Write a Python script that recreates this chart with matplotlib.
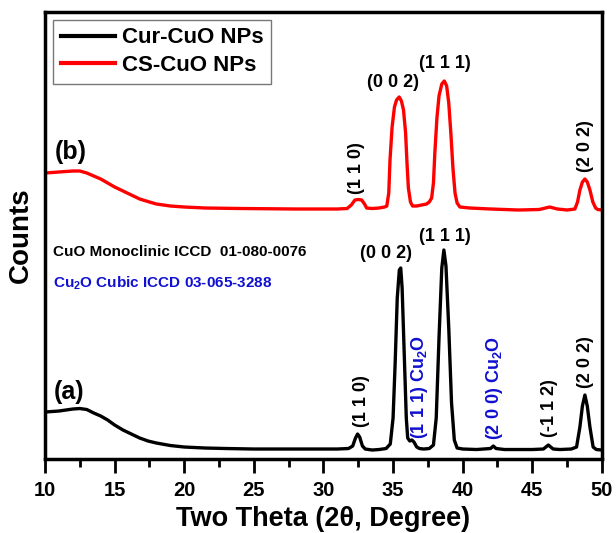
import matplotlib
matplotlib.use('Agg')
import matplotlib.pyplot as plt

plt.rcParams['font.family'] = ['Liberation Sans', 'DejaVu Sans']
plt.rcParams['font.weight'] = 'bold'
plt.rcParams['mathtext.fontset'] = 'custom'
plt.rcParams['mathtext.rm'] = 'Liberation Sans:bold'
plt.rcParams['mathtext.it'] = 'Liberation Sans:bold'
plt.rcParams['mathtext.bf'] = 'Liberation Sans:bold'
plt.rcParams['mathtext.default'] = 'rm'

# Cur-CuO NPs pattern (a)
theta_a = [10.0, 11.0, 12.0, 12.5, 13.0, 13.5, 14.0, 14.5, 15.0, 15.6, 16.2, 16.8, 17.4, 18.0,
           19.0, 20.0, 21.5, 23.0, 25.0, 28.0, 31.0, 31.8, 32.1, 32.3, 32.45, 32.6, 32.8, 33.0,
           33.5, 34.0, 34.5, 34.8, 35.0, 35.15, 35.3, 35.45, 35.55, 35.65, 35.8, 35.95, 36.05,
           36.2, 36.35, 36.5, 36.7, 36.9, 37.2, 37.6, 37.9, 38.1, 38.3, 38.5, 38.65, 38.8, 39.0,
           39.2, 39.4, 39.6, 40.0, 41.0, 42.0, 42.2, 42.4, 43.0, 44.0, 45.0, 45.8, 46.15, 46.5,
           47.0, 47.8, 48.18, 48.42, 48.6, 48.78, 48.95, 49.14, 49.37, 49.6, 50.0]
counts_a = [46, 47, 49, 49.5, 48.5, 45, 42, 38, 33, 28, 24, 20, 17, 15,
            12.5, 11, 10, 9.5, 9, 9, 9, 9.5, 12, 20, 24, 21, 12, 9,
            8, 8.5, 9.5, 14, 40, 95, 160, 188, 190, 170, 105, 40, 20,
            17, 18, 16, 11, 9.5, 9, 9.5, 13, 40, 120, 190, 208, 192, 130,
            55, 18, 10, 9, 8.5, 9.5, 12, 9.5, 8.5, 8.5, 8.5, 9, 13, 9,
            8.5, 9, 11, 31, 52, 63, 52, 31, 11, 8.5, 8]

# CS-CuO NPs pattern (b)
theta_b = [10.0, 11.0, 12.0, 12.5, 13.0, 13.5, 14.0, 14.5, 15.0, 15.6, 16.2, 16.8, 17.5, 18.0,
           19.0, 20.0, 21.5, 24.0, 28.0, 31.0, 31.7, 32.0, 32.26, 32.5, 32.74, 32.95, 33.1,
           33.5, 34.0, 34.4, 34.55, 34.69, 34.78, 34.93, 35.1, 35.25, 35.44, 35.6, 35.75, 35.9,
           36.0, 36.1, 36.25, 36.4, 36.7, 37.05, 37.4, 37.6, 37.77, 37.9, 38.0, 38.15, 38.3,
           38.5, 38.68, 38.85, 39.0, 39.15, 39.3, 39.45, 39.6, 39.8, 40.5, 42.0, 44.0, 45.5,
           46.25, 46.8, 47.5, 48.06, 48.25, 48.42, 48.6, 48.78, 48.95, 49.14, 49.35, 49.55,
           49.7, 50.0]
counts_b = [285, 286, 287, 287, 285, 282, 279, 275, 271, 267, 263, 259, 256, 254,
            252, 251, 250, 249.5, 249, 249, 249.5, 253, 258, 258.5, 258, 254, 250,
            249.5, 250, 251, 252, 265, 298, 331, 351, 358, 361, 357, 348, 325,
            295, 270, 256, 252, 252, 253, 254, 256, 260, 275, 305, 340, 362,
            374, 377, 372, 355, 325, 290, 265, 255, 251, 250, 249, 248, 248.5,
            251, 249, 248, 249, 256, 268, 276, 279, 276, 268, 256, 250,
            248.5, 248]

xticks = [10, 15, 20, 25, 30, 35, 40, 45, 50]

fig = plt.figure(figsize=(6.16, 5.33), dpi=100)
ax = fig.add_axes([0.0731, 0.1388, 0.904, 0.8387])

ax.plot(theta_a, counts_a, color='black', lw=2.4, label='Cur-CuO NPs')
ax.plot(theta_b, counts_b, color='#ff0000', lw=2.4, label='CS-CuO NPs')

ax.set_xlim(10, 50)
ax.set_ylim(-1, 446)
ax.set_xticks(xticks)
ax.set_xticklabels([str(t) for t in xticks], fontweight='bold')
ax.set_xticks([12.5, 17.5, 22.5, 27.5, 32.5, 37.5, 42.5, 47.5], minor=True)
ax.set_yticks([])
ax.tick_params(axis='x', which='major', direction='out', length=10, width=2, labelsize=14.5, pad=6)
ax.tick_params(axis='x', which='minor', direction='out', length=6, width=2)
for s in ax.spines.values():
    s.set_linewidth(2.5)

ax.set_xlabel('Two Theta (2θ, Degree)', fontsize=19.5, fontweight='bold', labelpad=4)
ax.set_ylabel('Counts', fontsize=20, fontweight='bold', labelpad=8)

leg = ax.legend(loc='upper left', bbox_to_anchor=(0.014, 0.983), borderaxespad=0,
                fontsize=16, handlelength=2.45, handletextpad=0.3, labelspacing=0.3,
                borderpad=0.35, fancybox=False, framealpha=1, edgecolor='#777777')
leg.get_frame().set_linewidth(1)
for line in leg.get_lines():
    line.set_linewidth(3)

# sample tags and reference cards
ax.text(10.7, 306, '(b)', fontsize=18, fontweight='bold', va='center')
ax.text(10.6, 66, '(a)', fontsize=18, fontweight='bold', va='center')
ax.text(10.6, 206, 'CuO Monoclinic ICCD  01-080-0076', fontsize=11, fontweight='bold', va='center')
ax.text(10.6, 175, 'Cu$_2$O Cubic ICCD 03-065-3288', fontsize=11, fontweight='bold',
        va='center', color='#1010d0')

# hkl labels, pattern (b)
kw = dict(fontsize=13, fontweight='bold', ha='center', va='center')
ax.text(32.4, 290, '(1 1 0)', rotation=90, **kw)
ax.text(35.0, 375, '(0 0 2)', **kw)
ax.text(38.7, 394, '(1 1 1)', **kw)
ax.text(48.8, 312, '(2 0 2)', rotation=90, **kw)

# hkl labels, pattern (a)
ax.text(34.5, 205, '(0 0 2)', **kw)
ax.text(38.7, 222, '(1 1 1)', **kw)
ax.text(32.75, 57, '(1 1 0)', rotation=90, **kw)
ax.text(36.9, 71, '(1 1 1) Cu$_2$O', rotation=90, color='#1010d0', **kw)
ax.text(42.3, 70, '(2 0 0) Cu$_2$O', rotation=90, color='#1010d0', **kw)
ax.text(46.25, 50, '(-1 1 2)', rotation=90, **kw)
ax.text(48.8, 96, '(2 0 2)', rotation=90, **kw)

fig.savefig('out.png', dpi=100)
